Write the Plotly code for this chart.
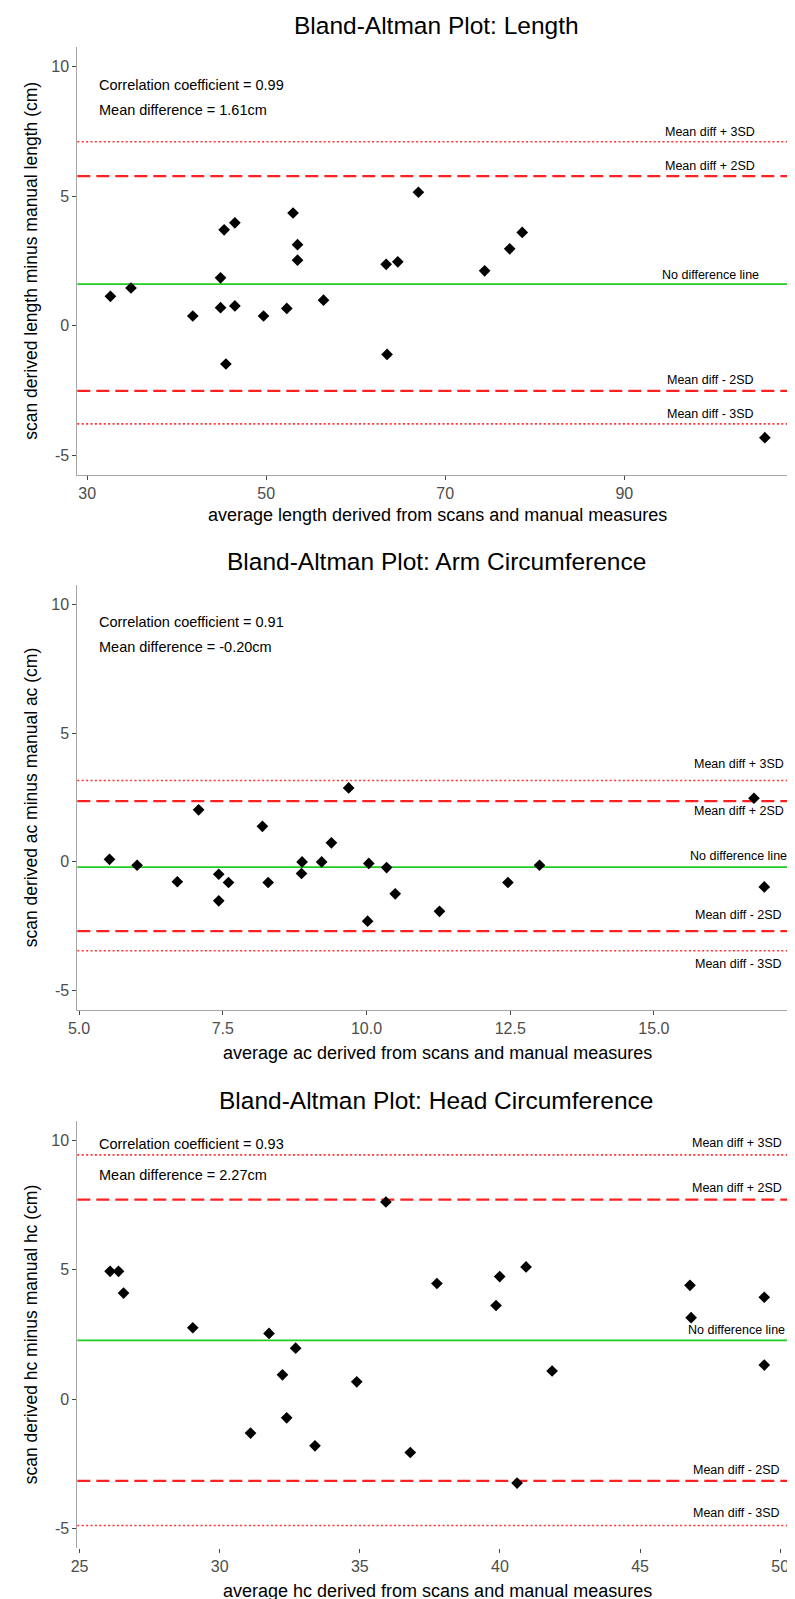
import plotly.graph_objects as go

W, H = 795, 1599

# ---------------- data ----------------
titles = ["Bland-Altman Plot: Length", "Bland-Altman Plot: Arm Circumference",
          "Bland-Altman Plot: Head Circumference"]
x_titles = ["average length derived from scans and manual measures",
            "average ac derived from scans and manual measures",
            "average hc derived from scans and manual measures"]
y_titles = ["scan derived length minus manual length (cm)",
            "scan derived ac minus manual ac (cm)",
            "scan derived hc minus manual hc (cm)"]
corr_text = ["Correlation coefficient = 0.99", "Correlation coefficient = 0.91",
             "Correlation coefficient = 0.93"]
mean_text = ["Mean difference = 1.61cm", "Mean difference = -0.20cm",
             "Mean difference = 2.27cm"]

len_avg = [32.6, 34.9, 41.8, 44.9, 44.9, 45.3, 45.5, 46.5, 46.5, 49.7, 52.3, 53.0,
           53.5, 53.5, 56.4, 63.4, 63.5, 64.7, 67.0, 74.4, 77.2, 78.6, 105.7]
len_diff = [1.14, 1.46, 0.38, 1.85, 0.70, 3.70, -1.47, 3.97, 0.77, 0.38, 0.67, 4.35,
            3.13, 2.53, 0.99, 2.37, -1.10, 2.47, 5.15, 2.12, 2.97, 3.60, -4.31]

ac_avg = [5.53, 6.01, 6.71, 7.08, 7.43, 7.43, 7.60, 8.19, 8.29, 8.87, 8.88, 9.22,
          9.39, 9.69, 10.02, 10.04, 10.35, 10.50, 11.27, 12.46, 13.01, 16.74, 16.92]
ac_diff = [0.10, -0.13, -0.77, 2.02, -0.48, -1.51, -0.80, 1.38, -0.80, -0.45, 0.00, 0.00,
           0.74, 2.87, -2.30, -0.06, -0.22, -1.24, -1.92, -0.80, -0.13, 2.47, -0.97]

hc_avg = [26.09, 26.39, 26.57, 29.04, 31.10, 31.76, 32.24, 32.39, 32.71, 33.40, 34.89,
          35.93, 36.80, 37.75, 39.86, 39.99, 40.61, 40.93, 41.86, 46.78, 46.82, 49.43, 49.43]
hc_diff = [4.94, 4.94, 4.10, 2.76, -1.31, 2.54, 0.94, -0.72, 1.97, -1.80, 0.67,
           7.62, -2.06, 4.47, 3.62, 4.74, -3.24, 5.11, 1.09, 4.40, 3.15, 3.94, 1.32]

line_labels = ["Mean diff + 3SD", "Mean diff + 2SD", "No difference line",
               "Mean diff - 2SD", "Mean diff - 3SD"]
len_limits = [7.10, 5.77, 1.61, -2.51, -3.78]
ac_limits = [3.16, 2.36, -0.20, -2.69, -3.45]
hc_limits = [9.44, 7.71, 2.27, -3.16, -4.88]

len_xticks = [30, 50, 70, 90]
ac_xticks = [5.0, 7.5, 10.0, 12.5, 15.0]
hc_xticks = [25, 30, 35, 40, 45, 50]
y_ticks = [-5, 0, 5, 10]
y_ticklabels = ["-5", "0", "5", "10"]

# ---------------- layout helpers ----------------
def py(px):
    return 1 - px / H

def pxx(px):
    return px / W

panels = [
    dict(avg=len_avg, diff=len_diff, lim=len_limits, xt=len_xticks,
         xtt=[str(v) for v in len_xticks], xr=[28.9, 109.3], xline=True,
         top=39, bot=467, title_y=17, xt_y=507, corr_y=77, mean_y=102,
         lab_x=701, shifts=[10, 10, 9, 11, 10]),
    dict(avg=ac_avg, diff=ac_diff, lim=ac_limits, xt=ac_xticks,
         xtt=["%.1f" % v for v in ac_xticks], xr=[4.97, 17.49], xline=True,
         top=577, bot=1002, title_y=553, xt_y=1045, corr_y=614, mean_y=639,
         lab_x=730, shifts=[17, -10, 11, 16, -13]),
    dict(avg=hc_avg, diff=hc_diff, lim=hc_limits, xt=hc_xticks,
         xtt=[str(v) for v in hc_xticks], xr=[24.92, 50.6], xline=False,
         top=1113, bot=1540, title_y=1092, xt_y=1583, corr_y=1136, mean_y=1167,
         lab_x=728, shifts=[12, 12, 10, 11, 12]),
]

X_LEFT, X_RIGHT = 61, 789
FONT = "Liberation Sans, Arial, sans-serif"
AXIS_COL = "#a6a6a6"

fig = go.Figure()
layout = dict(width=W, height=H, margin=dict(l=0, r=0, t=0, b=0),
              paper_bgcolor="white", plot_bgcolor="white", showlegend=False,
              font=dict(family=FONT, color="black"))
annotations = []
shapes = []
line_styles = [
    dict(color="#ff3030", width=1.6, dash="2px,2.4px"),
    dict(color="#ff2020", width=2.2, dash="13px,6px"),
    dict(color="#22cc22", width=1.8, dash="solid"),
    dict(color="#ff2020", width=2.2, dash="13px,6px"),
    dict(color="#ff3030", width=1.6, dash="2px,2.4px"),
]

for i, p in enumerate(panels):
    n = i + 1
    xa = "x" if n == 1 else "x%d" % n
    ya = "y" if n == 1 else "y%d" % n
    xkey = "xaxis" if n == 1 else "xaxis%d" % n
    ykey = "yaxis" if n == 1 else "yaxis%d" % n

    layout[xkey] = dict(domain=[pxx(X_LEFT), pxx(X_RIGHT)], anchor=ya, range=p["xr"],
                        showgrid=False, zeroline=False, showline=p["xline"],
                        linecolor=AXIS_COL, linewidth=1, ticks="outside", ticklen=4,
                        tickcolor="#444444", tickwidth=1,
                        tickvals=p["xt"], ticktext=p["xtt"],
                        tickfont=dict(size=16, color="#4d4d4d", family=FONT))
    layout[ykey] = dict(domain=[py(p["bot"]), py(p["top"])], anchor=xa,
                        range=[-5.75, 10.75], showgrid=False, zeroline=False,
                        showline=True, linecolor=AXIS_COL, linewidth=1,
                        ticks="outside", ticklen=4, tickcolor="#444444", tickwidth=1,
                        tickvals=y_ticks, ticktext=y_ticklabels,
                        tickfont=dict(size=16, color="#4d4d4d", family=FONT))

    # reference lines
    for j, val in enumerate(p["lim"]):
        shapes.append(dict(type="line", xref=xa + " domain", yref=ya,
                           x0=0, x1=1, y0=val, y1=val, line=line_styles[j],
                           layer="below"))
        annotations.append(dict(xref="paper", yref=ya, x=pxx(p["lab_x"]), y=val,
                                yshift=p["shifts"][j], xanchor="center",
                                yanchor="middle", showarrow=False,
                                text=line_labels[j],
                                font=dict(size=12.5, color="black", family=FONT)))

    fig.add_trace(go.Scatter(x=p["avg"], y=p["diff"], mode="markers",
                             xaxis=xa, yaxis=ya,
                             marker=dict(symbol="diamond", size=9, color="black",
                                         line=dict(width=0))))

    # titles and texts
    annotations.append(dict(xref="paper", yref="paper", x=pxx(424), y=py(p["title_y"]),
                            xanchor="center", yanchor="middle", showarrow=False,
                            text=titles[i], font=dict(size=24.5, color="black", family=FONT)))
    annotations.append(dict(xref="paper", yref="paper", x=pxx((X_LEFT + X_RIGHT) / 2),
                            y=py(p["xt_y"]), xanchor="center", yanchor="middle",
                            showarrow=False, text=x_titles[i],
                            font=dict(size=18, color="black", family=FONT)))
    annotations.append(dict(xref="paper", yref="paper", x=pxx(14),
                            y=py((p["top"] + p["bot"]) / 2), xanchor="center",
                            yanchor="middle", showarrow=False, textangle=-90,
                            text=y_titles[i],
                            font=dict(size=17.5, color="black", family=FONT)))
    annotations.append(dict(xref="paper", yref="paper", x=pxx(81), y=py(p["corr_y"]),
                            xanchor="left", yanchor="middle", showarrow=False,
                            text=corr_text[i],
                            font=dict(size=14.5, color="black", family=FONT)))
    annotations.append(dict(xref="paper", yref="paper", x=pxx(81), y=py(p["mean_y"]),
                            xanchor="left", yanchor="middle", showarrow=False,
                            text=mean_text[i],
                            font=dict(size=14.5, color="black", family=FONT)))

layout["annotations"] = annotations
layout["shapes"] = shapes
fig.update_layout(**layout)
fig.write_html("out.html")
